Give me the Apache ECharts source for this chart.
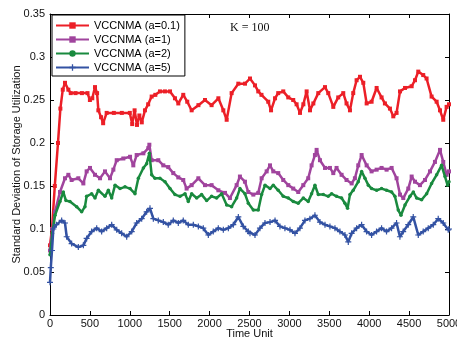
<!DOCTYPE html>
<html>
<head>
<meta charset="utf-8">
<script src="https://cdn.jsdelivr.net/npm/echarts@6/dist/echarts.min.js"></script>
<style>
  html, body { margin: 0; padding: 0; background: #fff; }
  #chart { width: 457px; height: 341px; }
</style>
</head>
<body>
<div id="chart"></div>
<script>
// Standard deviation of storage utilization over time, K = 100
const seriesNames = ['VCCNMA (a=0.1)', 'VCCNMA (a=1)', 'VCCNMA (a=2)', 'VCCNMA (a=5)'];
const xTicks = [0, 500, 1000, 1500, 2000, 2500, 3000, 3500, 4000, 4500, 5000];
const yTicks = [0, 0.05, 0.1, 0.15, 0.2, 0.25, 0.3, 0.35];

// [time unit, standard deviation]
const a01 = [[0,0.081],[25,0.1],[60,0.15],[100,0.2],[130,0.24],[160,0.262],[188,0.27],[230,0.262],[260,0.258],[320,0.258],[400,0.258],[470,0.258],[500,0.25],[530,0.252],[564,0.265],[590,0.258],[606,0.238],[640,0.23],[666,0.223],[710,0.235],[800,0.235],[900,0.235],[1000,0.235],[1030,0.222],[1060,0.238],[1090,0.221],[1120,0.232],[1150,0.224],[1190,0.238],[1230,0.245],[1274,0.254],[1320,0.256],[1378,0.26],[1440,0.26],[1504,0.26],[1566,0.252],[1608,0.246],[1670,0.256],[1720,0.248],[1775,0.238],[1860,0.244],[1942,0.25],[2025,0.244],[2110,0.252],[2172,0.238],[2214,0.227],[2276,0.258],[2360,0.269],[2444,0.269],[2506,0.275],[2569,0.267],[2610,0.26],[2650,0.256],[2735,0.248],[2770,0.238],[2820,0.252],[2860,0.258],[2923,0.26],[2986,0.253],[3048,0.25],[3090,0.245],[3133,0.235],[3175,0.245],[3216,0.26],[3258,0.238],[3300,0.246],[3362,0.258],[3446,0.265],[3487,0.258],[3550,0.242],[3612,0.253],[3675,0.258],[3716,0.246],[3759,0.238],[3800,0.258],[3842,0.273],[3885,0.277],[3926,0.27],[3968,0.246],[4030,0.248],[4093,0.264],[4155,0.253],[4197,0.246],[4260,0.24],[4302,0.231],[4343,0.235],[4386,0.26],[4449,0.264],[4532,0.266],[4574,0.273],[4615,0.283],[4677,0.279],[4719,0.275],[4782,0.254],[4845,0.248],[4887,0.238],[4928,0.227],[4970,0.242],[5000,0.245]];

const a1 = [[0,0.075],[30,0.1],[63,0.12],[125,0.143],[188,0.159],[230,0.163],[271,0.157],[355,0.159],[418,0.153],[459,0.167],[501,0.171],[564,0.163],[627,0.159],[689,0.167],[752,0.159],[794,0.169],[836,0.18],[919,0.182],[1003,0.184],[1044,0.174],[1086,0.186],[1170,0.188],[1232,0.194],[1245,0.198],[1274,0.18],[1357,0.18],[1420,0.174],[1482,0.172],[1545,0.165],[1608,0.16],[1670,0.157],[1712,0.147],[1775,0.151],[1859,0.159],[1942,0.151],[2025,0.151],[2110,0.145],[2193,0.142],[2255,0.136],[2339,0.151],[2380,0.161],[2443,0.155],[2485,0.143],[2548,0.14],[2610,0.142],[2652,0.159],[2715,0.167],[2757,0.174],[2798,0.167],[2860,0.165],[2923,0.157],[2986,0.151],[3048,0.147],[3111,0.143],[3174,0.151],[3236,0.159],[3278,0.174],[3320,0.186],[3341,0.192],[3383,0.18],[3446,0.171],[3508,0.171],[3550,0.165],[3591,0.171],[3654,0.163],[3716,0.157],[3780,0.153],[3821,0.159],[3863,0.174],[3905,0.186],[3968,0.174],[4030,0.167],[4093,0.169],[4155,0.171],[4218,0.169],[4281,0.171],[4343,0.159],[4386,0.14],[4427,0.136],[4490,0.147],[4532,0.161],[4574,0.155],[4636,0.151],[4699,0.157],[4762,0.167],[4824,0.178],[4887,0.192],[4928,0.178],[4970,0.163],[5000,0.167]];

const a2 = [[0,0.07],[30,0.095],[63,0.116],[125,0.132],[167,0.143],[200,0.133],[250,0.132],[334,0.126],[397,0.12],[438,0.126],[459,0.138],[522,0.141],[564,0.136],[606,0.145],[689,0.138],[731,0.145],[773,0.136],[815,0.151],[877,0.147],[940,0.149],[1003,0.147],[1065,0.141],[1107,0.159],[1170,0.171],[1211,0.176],[1245,0.188],[1274,0.163],[1315,0.159],[1378,0.159],[1441,0.155],[1504,0.147],[1566,0.14],[1629,0.138],[1692,0.141],[1733,0.132],[1775,0.141],[1838,0.136],[1900,0.14],[1963,0.133],[2025,0.138],[2088,0.136],[2151,0.141],[2214,0.128],[2276,0.126],[2339,0.136],[2380,0.147],[2443,0.141],[2485,0.13],[2548,0.122],[2610,0.122],[2652,0.14],[2694,0.151],[2757,0.147],[2798,0.151],[2860,0.145],[2923,0.138],[2986,0.136],[3048,0.132],[3111,0.13],[3174,0.136],[3236,0.132],[3278,0.141],[3320,0.151],[3362,0.14],[3425,0.14],[3487,0.138],[3529,0.141],[3591,0.138],[3654,0.136],[3696,0.13],[3729,0.124],[3759,0.14],[3800,0.145],[3863,0.155],[3905,0.167],[3947,0.159],[3989,0.151],[4030,0.147],[4093,0.145],[4155,0.147],[4218,0.145],[4281,0.143],[4322,0.138],[4364,0.122],[4398,0.116],[4449,0.128],[4511,0.138],[4553,0.143],[4594,0.136],[4657,0.134],[4720,0.141],[4782,0.153],[4845,0.163],[4907,0.174],[4950,0.161],[4982,0.151],[5000,0.155]];

const a5 = [[0,0.038],[10,0.055],[25,0.075],[42,0.1],[80,0.105],[146,0.11],[188,0.107],[209,0.091],[271,0.083],[355,0.079],[418,0.081],[459,0.089],[522,0.097],[585,0.101],[647,0.097],[710,0.101],[773,0.105],[836,0.099],[898,0.095],[961,0.091],[1024,0.097],[1086,0.107],[1149,0.112],[1211,0.12],[1253,0.124],[1295,0.112],[1357,0.11],[1420,0.108],[1482,0.105],[1545,0.11],[1608,0.107],[1670,0.11],[1733,0.105],[1796,0.105],[1859,0.103],[1921,0.101],[1984,0.093],[2046,0.097],[2109,0.101],[2172,0.099],[2235,0.101],[2297,0.105],[2360,0.114],[2422,0.103],[2485,0.097],[2506,0.095],[2569,0.093],[2631,0.101],[2694,0.107],[2757,0.108],[2820,0.11],[2882,0.103],[2944,0.101],[3007,0.099],[3070,0.095],[3132,0.101],[3195,0.11],[3257,0.112],[3320,0.116],[3383,0.108],[3446,0.105],[3508,0.103],[3571,0.101],[3633,0.097],[3696,0.093],[3738,0.085],[3780,0.095],[3842,0.101],[3905,0.105],[3967,0.097],[4030,0.093],[4092,0.097],[4155,0.101],[4217,0.097],[4280,0.101],[4343,0.107],[4385,0.091],[4426,0.097],[4489,0.105],[4552,0.114],[4615,0.093],[4677,0.097],[4740,0.101],[4803,0.105],[4865,0.112],[4928,0.107],[4990,0.099],[5000,0.1]];

const colors = ['#ec1f27', '#a0449d', '#198a3e', '#3352a3'];
const plusMark = 'path://M2 0H3V2H5V3H3V5H2V3H0V2H2Z';
const marks = ['rect', 'rect', 'circle', plusMark];
const markSizes = [4, 4, 3.5, 6];
const datasets = [a01, a1, a2, a5];

const font = '"Liberation Sans", Arial, sans-serif';
const chart = echarts.init(document.getElementById('chart'), null, { renderer: 'canvas' });

function frameAxis(pos, isX) {
  return {
    type: 'value',
    position: pos,
    min: 0,
    max: isX ? 5000 : 0.35,
    interval: isX ? 500 : 0.05,
    axisLine: { show: true, onZero: false, lineStyle: { color: '#000', width: 1 } },
    axisTick: { show: true, inside: true, length: 4, lineStyle: { color: '#000' } },
    axisLabel: { show: false },
    splitLine: { show: false }
  };
}

chart.setOption({
  animation: false,
  backgroundColor: '#fff',
  grid: { left: 50, right: 8, top: 14, bottom: 26, containLabel: false, outerBoundsMode: 'none' },
  legend: {
    data: seriesNames,
    orient: 'vertical',
    left: 52,
    top: 15,
    itemWidth: 33,
    itemHeight: 8,
    itemGap: 3,
    padding: [5, 5, 3, 3],
    borderColor: '#000',
    borderWidth: 1,
    backgroundColor: '#fff',
    textStyle: { fontFamily: font, fontSize: 11, color: '#000' },
    z: 10
  },
  xAxis: [
    {
      type: 'value',
      position: 'bottom',
      min: 0,
      max: 5000,
      interval: 500,
      name: 'Time Unit',
      nameLocation: 'middle',
      nameGap: 13,
      nameMoveOverlap: false,
      nameTextStyle: { fontFamily: font, fontSize: 11, color: '#111' },
      axisLine: { show: true, onZero: false, lineStyle: { color: '#000', width: 1 } },
      axisTick: { show: true, inside: true, length: 4, lineStyle: { color: '#000' } },
      axisLabel: {
        fontFamily: font, fontSize: 11, color: '#111', margin: 3,
        formatter: v => xTicks.includes(v) ? String(v) : ''
      },
      splitLine: { show: false }
    },
    frameAxis('top', true)
  ],
  yAxis: [
    {
      type: 'value',
      position: 'left',
      min: 0,
      max: 0.35,
      interval: 0.05,
      name: 'Standard Deviation of Storage Utilization',
      nameLocation: 'middle',
      nameGap: 28,
      nameMoveOverlap: false,
      nameTextStyle: { fontFamily: font, fontSize: 11, color: '#111' },
      axisLine: { show: true, onZero: false, lineStyle: { color: '#000', width: 1 } },
      axisTick: { show: true, inside: true, length: 4, lineStyle: { color: '#000' } },
      axisLabel: {
        fontFamily: font, fontSize: 11, color: '#111', margin: 5,
        formatter: v => {
          const t = yTicks.find(y => Math.abs(y - v) < 1e-9);
          return t === undefined ? '' : String(t);
        }
      },
      splitLine: { show: false }
    },
    frameAxis('right', false)
  ],
  graphic: [
    {
      type: 'text',
      left: 230,
      top: 22,
      style: { text: 'K = 100', fontFamily: '"Liberation Serif", "Times New Roman", serif', fontSize: 12, fill: '#111' },
      z: 20
    }
  ],
  series: datasets.map((d, i) => ({
    name: seriesNames[i],
    type: 'line',
    xAxisIndex: 0,
    yAxisIndex: 0,
    data: d,
    showSymbol: true,
    showAllSymbol: true,
    symbol: marks[i],
    symbolSize: markSizes[i],
    color: colors[i],
    itemStyle: { color: colors[i] },
    lineStyle: { color: colors[i], width: 2.5 },
    z: 2 + i
  }))
});
</script>
</body>
</html>
